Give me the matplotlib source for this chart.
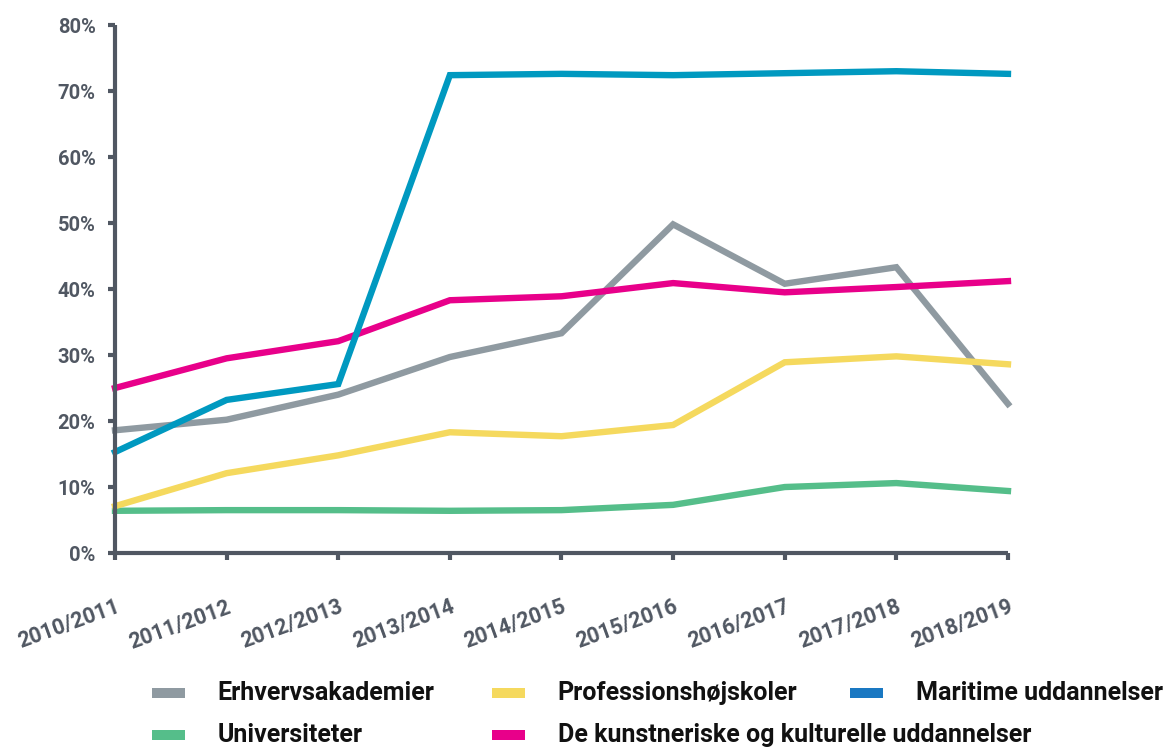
import matplotlib
matplotlib.use("Agg")
import matplotlib.pyplot as plt
from matplotlib.patches import Rectangle

years = ["2010/2011", "2011/2012", "2012/2013", "2013/2014", "2014/2015",
         "2015/2016", "2016/2017", "2017/2018", "2018/2019"]

erhvervsakademier = [18.6, 20.2, 24.0, 29.7, 33.3, 49.8, 40.8, 43.3, 22.6]
professionshojskoler = [7.1, 12.1, 14.8, 18.3, 17.7, 19.4, 28.9, 29.8, 28.6]
maritime = [15.3, 23.2, 25.6, 72.4, 72.6, 72.4, 72.7, 73.0, 72.6]
universiteter = [6.4, 6.5, 6.5, 6.4, 6.5, 7.3, 10.0, 10.6, 9.4]
kunstneriske = [25.0, 29.5, 32.1, 38.3, 38.9, 40.9, 39.5, 40.3, 41.2]

yticks = [0, 10, 20, 30, 40, 50, 60, 70, 80]

plt.rcParams["font.family"] = ["Roboto", "DejaVu Sans"]
plt.rcParams["font.weight"] = "bold"

AXIS = "#505762"
GRAY = "#8f9aa1"
YELLOW = "#f5d95e"
BLUE = "#0099c0"
BLUE_LEGEND = "#1a78c2"
GREEN = "#55be8a"
PINK = "#e8008a"

fig = plt.figure(figsize=(11.7, 7.51), dpi=100)
ax = fig.add_axes([0.0983, 0.2636, 0.7632, 0.7031])

x = list(range(len(years)))
lw = 4.6
ax.plot(x, universiteter, color=GREEN, lw=lw, solid_joinstyle="miter")
ax.plot(x, erhvervsakademier, color=GRAY, lw=lw, solid_joinstyle="miter")
ax.plot(x, professionshojskoler, color=YELLOW, lw=lw, solid_joinstyle="miter")
ax.plot(x, kunstneriske, color=PINK, lw=lw, solid_joinstyle="miter")
ax.plot(x, maritime, color=BLUE, lw=lw, solid_joinstyle="miter")

ax.set_xlim(0, len(years) - 1)
ax.set_ylim(0, 80)
ax.set_yticks(yticks)
ax.set_yticklabels([f"{v}%" for v in yticks])
ax.set_xticks(x)
ax.set_xticklabels(years, rotation=20, ha="right", va="top",
                   rotation_mode="anchor")

for side in ["top", "right"]:
    ax.spines[side].set_visible(False)
for side in ["left", "bottom"]:
    ax.spines[side].set_color(AXIS)
    ax.spines[side].set_linewidth(3)
    ax.spines[side].set_capstyle("butt")

ax.tick_params(axis="y", colors=AXIS, width=3, length=5, labelsize=14.5, pad=9)
ax.tick_params(axis="x", colors=AXIS, width=3, length=5, labelsize=15.5, pad=26)
for lab in ax.get_xticklabels() + ax.get_yticklabels():
    lab.set_fontweight("bold")
for line in ax.get_lines():
    line.set_clip_on(False)

# legend drawn by hand: second row does not follow a column grid
legend_items = [
    ("Erhvervsakademier", GRAY, 0.130, 0.0705),
    ("Professionshøjskoler", YELLOW, 0.4205, 0.0705),
    ("Maritime uddannelser", BLUE_LEGEND, 0.7265, 0.0705),
    ("Universiteter", GREEN, 0.130, 0.0146),
    ("De kunstneriske og kulturelle uddannelser", PINK, 0.4205, 0.0146),
]
for label, color, px, py in legend_items:
    fig.add_artist(Rectangle((px, py), 0.028, 0.0133, transform=fig.transFigure,
                             facecolor=color, edgecolor="none"))
    fig.text(px + 0.056, py + 0.0066, label, fontsize=18, fontweight="bold",
             color="#111111", va="center", ha="left")

fig.savefig("out.png", dpi=100)
